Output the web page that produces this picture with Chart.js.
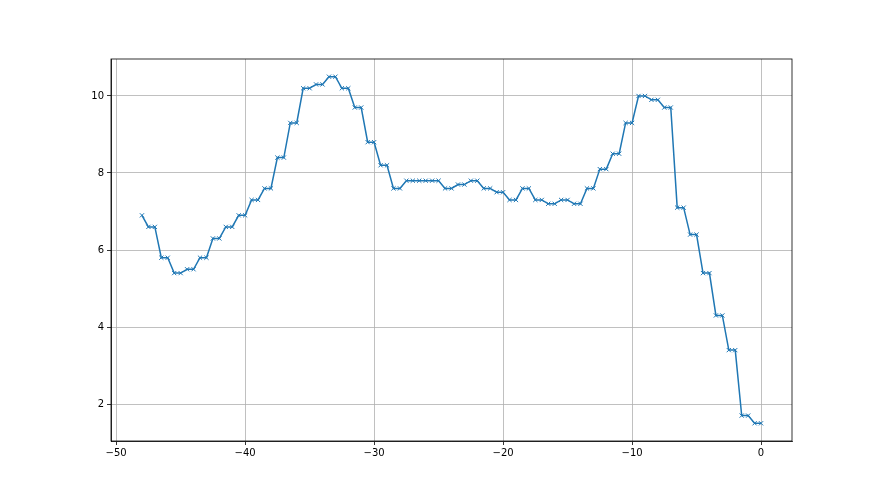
<!DOCTYPE html>
<html>
<head>
<meta charset="utf-8">
<script src="https://cdn.jsdelivr.net/npm/chart.js@4/dist/chart.umd.min.js"></script>
<style>
  html, body { margin: 0; padding: 0; background: #fff; }
  canvas { display: block; }
</style>
</head>
<body>
<canvas id="chart" width="880" height="495"></canvas>
<script>
const xValues = [
  -48,
  -47.5, -47, -46.5, -46, -45.5, -45, -44.5, -44, -43.5, -43,
  -42.5, -42, -41.5, -41, -40.5, -40, -39.5, -39, -38.5, -38,
  -37.5, -37, -36.5, -36, -35.5, -35, -34.5, -34, -33.5, -33,
  -32.5, -32, -31.5, -31, -30.5, -30, -29.5, -29, -28.5, -28,
  -27.5, -27, -26.5, -26, -25.5, -25, -24.5, -24, -23.5, -23,
  -22.5, -22, -21.5, -21, -20.5, -20, -19.5, -19, -18.5, -18,
  -17.5, -17, -16.5, -16, -15.5, -15, -14.5, -14, -13.5, -13,
  -12.5, -12, -11.5, -11, -10.5, -10, -9.5, -9, -8.5, -8,
  -7.5, -7, -6.5, -6, -5.5, -5, -4.5, -4, -3.5, -3,
  -2.5, -2, -1.5, -1, -0.5, 0
]
const yValues = [
  6.9,
  6.6, 6.6, 5.8, 5.8, 5.4, 5.4, 5.5, 5.5, 5.8, 5.8,
  6.3, 6.3, 6.6, 6.6, 6.9, 6.9, 7.3, 7.3, 7.6, 7.6,
  8.4, 8.4, 9.3, 9.3, 10.2, 10.2, 10.3, 10.3, 10.5, 10.5,
  10.2, 10.2, 9.7, 9.7, 8.8, 8.8, 8.2, 8.2, 7.6, 7.6,
  7.8, 7.8, 7.8, 7.8, 7.8, 7.8, 7.6, 7.6, 7.7, 7.7,
  7.8, 7.8, 7.6, 7.6, 7.5, 7.5, 7.3, 7.3, 7.6, 7.6,
  7.3, 7.3, 7.2, 7.2, 7.3, 7.3, 7.2, 7.2, 7.6, 7.6,
  8.1, 8.1, 8.5, 8.5, 9.3, 9.3, 10.0, 10.0, 9.9, 9.9,
  9.7, 9.7, 7.1, 7.1, 6.4, 6.4, 5.4, 5.4, 4.3, 4.3,
  3.4, 3.4, 1.7, 1.7, 1.5, 1.5
]
const xTicks = [-50, -40, -30, -20, -10, 0]
const yTicks = [2, 4, 6, 8, 10]

// top and right spines, like matplotlib's box
const frame = {
  id: 'frame',
  afterDraw(chart) {
    const a = chart.chartArea
    const c = chart.ctx
    c.save()
    c.strokeStyle = '#000'
    c.lineWidth = 0.8
    c.strokeRect(a.left, a.top, a.right - a.left, a.bottom - a.top)
    c.restore()
  }
}

const minus = v => String(v).replace('-', '\u2212')

new Chart(document.getElementById('chart').getContext('2d'), {
  type: 'line',
  data: {
    datasets: [{
      data: xValues.map((x, i) => ({ x: x, y: yValues[i] })),
      borderColor: '#1f77b4',
      backgroundColor: '#1f77b4',
      borderWidth: 1.5,
      pointStyle: 'crossRot',
      pointRadius: 3,
      pointBorderWidth: 1,
      pointBorderColor: '#1f77b4',
      tension: 0,
      fill: false
    }]
  },
  options: {
    responsive: false,
    animation: false,
    layout: { padding: { left: 0, top: 59, right: 88, bottom: 0 } },
    plugins: { legend: { display: false }, tooltip: { enabled: false } },
    scales: {
      x: {
        type: 'linear',
        min: -50.4,
        max: 2.4,
        afterBuildTicks: s => { s.ticks = xTicks.map(v => ({ value: v })) },
        afterFit: s => { s.height = 54 },
        grid: { color: '#b0b0b0', lineWidth: 0.8, tickLength: 4, tickColor: '#000' },
        border: { color: '#000', width: 0.8 },
        ticks: {
          color: '#000', padding: 2, maxRotation: 0,
          font: { family: 'DejaVu Sans', size: 10 },
          callback: minus
        }
      },
      y: {
        min: 1.04,
        max: 10.96,
        afterBuildTicks: s => { s.ticks = yTicks.map(v => ({ value: v })) },
        afterFit: s => { s.width = 111 },
        grid: { color: '#b0b0b0', lineWidth: 0.8, tickLength: 4, tickColor: '#000' },
        border: { color: '#000', width: 0.8 },
        ticks: {
          color: '#000', padding: 3,
          font: { family: 'DejaVu Sans', size: 10 },
          callback: minus
        }
      }
    }
  },
  plugins: [frame]
})
</script>
</body>
</html>
